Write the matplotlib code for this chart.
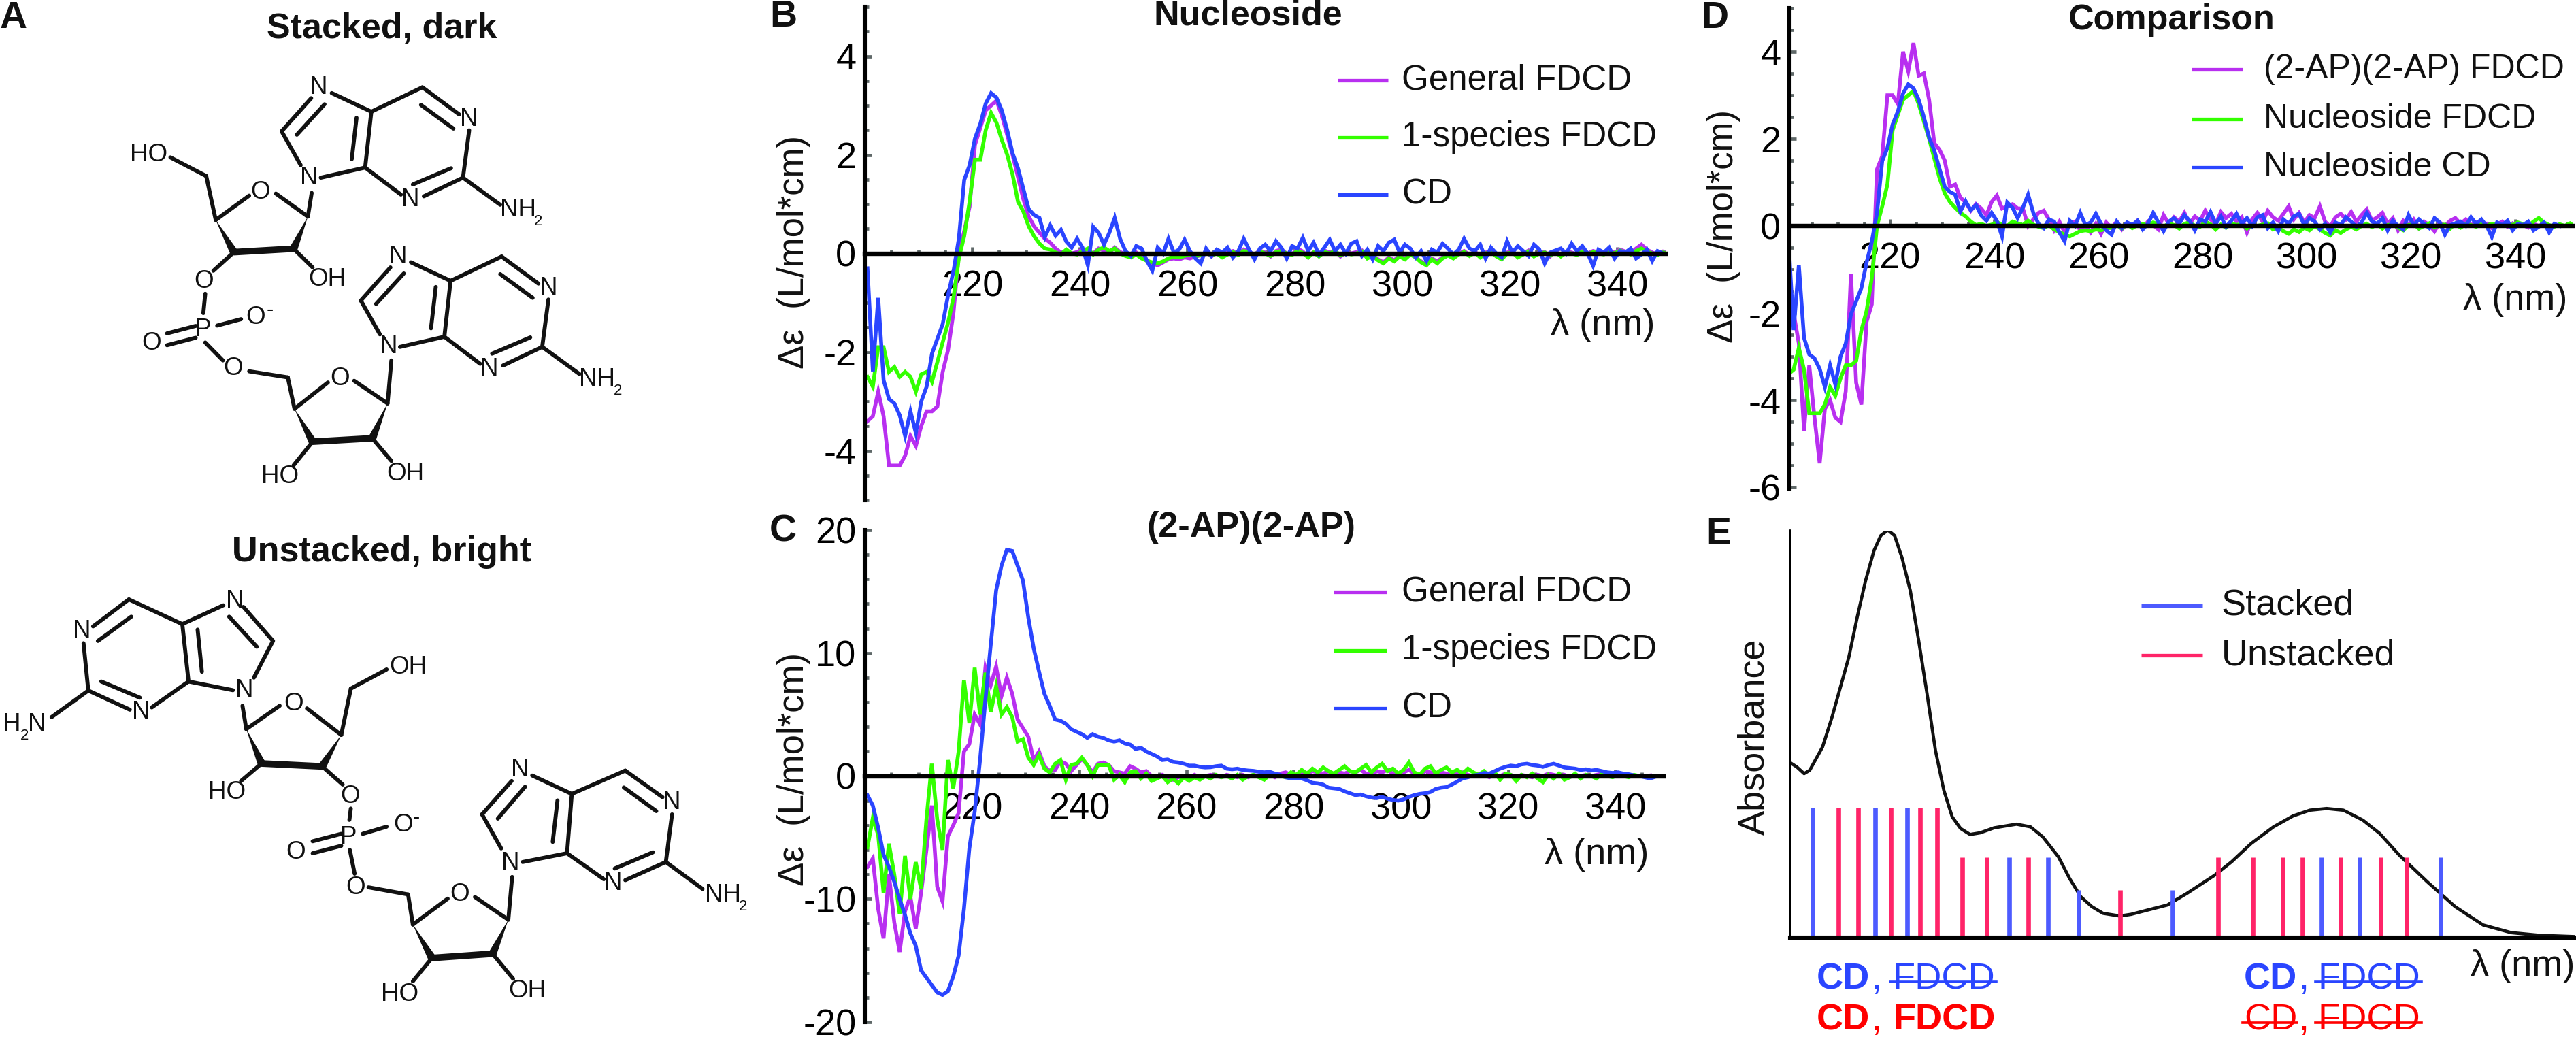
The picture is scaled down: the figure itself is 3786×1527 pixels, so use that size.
import numpy as np
import matplotlib
matplotlib.use('Agg')
from matplotlib import pyplot as plt
from matplotlib.patches import Polygon
from matplotlib.ticker import FixedLocator, MultipleLocator

plt.rcParams['font.family'] = ['Liberation Sans', 'DejaVu Sans']

W, H = 3787, 1527

# spectra, one value per nm starting at 200.5 nm
nuc_general = [-3.4,-3.3,-2.8,-3.3,-4.3,-4.3,-4.3,-4.1,-3.7,-3.9,-3.5,-3.2,-3.2,-3.1,-2.4,-1.95,-1.2,0.0,0.45,0.95,
    2.2,2.55,2.9,3.0,3.1,2.8,2.4,2.0,1.55,1.1,0.75,0.55,0.42,0.3,0.22,0.1,0.02,
    0.05,0.0,0.03,0.08,0.04,0.0,0.1,0.06,0.02,0.12,0.03,-0.02,-0.05,0.02,-0.08,-0.14,-0.2,-0.24,-0.18,-0.12,
    -0.1,-0.12,-0.08,-0.1,-0.06,-0.04,0.02,-0.06,0.04,-0.05,0.02,0.05,0.0,0.08,0.03,-0.02,0.06,0.02,-0.06,0.05,
    0.08,0.0,-0.02,0.1,0.04,-0.08,0.03,-0.04,0.06,0.02,0.05,-0.06,0.02,0.0,0.03,0.06,-0.08,-0.04,-0.12,-0.18,
    -0.08,-0.14,-0.04,-0.1,0.0,-0.08,-0.16,-0.22,-0.1,-0.16,-0.08,-0.02,-0.08,0.0,0.05,-0.03,0.04,-0.06,0.02,0.04,
    -0.04,-0.1,0.02,0.04,-0.06,0.0,0.06,-0.04,0.02,0.03,-0.06,0.05,-0.04,0.04,0.02,-0.02,0.06,0.0,0.05,0.02,
    0.0,0.06,0.02,0.08,0.04,0.0,0.1,0.18,0.08,0.02,-0.02,0.04,0.0,0.06,-0.02,0.03,0.0]
nuc_1sp = [-2.5,-2.7,-1.9,-1.9,-2.4,-2.3,-2.5,-2.4,-2.5,-2.8,-2.45,-2.4,-2.6,-2.2,-1.8,-1.4,-0.9,-0.1,0.35,1.05,
    1.9,1.9,2.5,2.85,2.65,2.3,2.0,1.6,1.05,0.85,0.55,0.35,0.2,0.1,0.08,0.02,-0.02,
    0.08,0.0,-0.02,0.05,0.1,-0.02,0.08,0.12,0.05,0.1,0.0,-0.05,-0.08,-0.02,-0.1,-0.15,-0.18,-0.2,-0.16,-0.1,
    -0.06,-0.08,-0.05,-0.02,-0.06,-0.03,0.02,-0.04,0.0,-0.08,-0.02,0.03,-0.03,0.05,0.02,-0.02,0.04,0.0,-0.05,0.03,
    0.05,0.0,-0.03,0.06,0.01,-0.08,0.02,-0.06,0.03,0.0,0.05,-0.04,0.02,-0.02,0.0,0.04,-0.1,-0.05,-0.14,-0.2,
    -0.1,-0.16,-0.06,-0.12,-0.02,-0.08,-0.18,-0.24,-0.12,-0.2,-0.1,-0.04,-0.1,-0.02,0.03,-0.05,0.02,-0.08,0.0,0.03,
    -0.06,-0.12,0.0,0.02,-0.08,-0.02,0.04,-0.06,0.0,0.02,-0.04,0.03,-0.06,0.02,0.0,-0.03,0.04,-0.02,0.03,0.0,
    -0.02,0.04,0.0,0.06,0.02,-0.02,0.05,0.1,0.04,0.0,-0.03,0.02,0.0,0.02]
nuc_cd = [-0.3,-2.39,-0.9,-2.57,-2.95,-3.04,-3.28,-3.7,-3.2,-3.64,-3.0,-2.7,-2.03,-1.73,-1.43,-0.84,-0.36,0.3,1.49,1.79,
    2.33,2.63,3.04,3.25,3.16,2.9,2.5,2.03,1.73,1.31,0.9,0.78,0.72,0.33,0.57,0.36,0.48,0.24,0.12,0.3,0.12,-0.24,0.54,0.42,0.18,0.42,0.72,
    0.3,0.05,-0.05,0.15,0.1,-0.15,-0.35,0.12,0.0,0.3,0.02,0.08,0.28,0.05,-0.1,-0.2,0.1,-0.05,0.08,0.02,0.12,-0.08,0.05,0.3,
    0.08,-0.12,0.1,0.18,0.05,0.25,0.12,-0.1,0.15,0.1,0.32,0.05,0.22,-0.02,0.12,0.28,0.05,0.18,0.0,0.2,0.25,-0.05,
    0.08,-0.12,0.15,0.05,0.22,0.28,0.02,0.18,0.1,-0.08,0.05,-0.15,0.08,0.02,0.2,0.1,-0.02,0.08,0.3,0.1,0.05,0.18,
    -0.1,0.12,0.0,-0.08,0.25,0.02,0.15,0.05,-0.05,0.18,0.08,-0.2,0.02,0.06,0.1,0.0,0.2,0.05,0.15,0.0,-0.25,0.08,
    0.02,0.12,-0.1,0.05,0.02,0.1,-0.1,-0.02,0.08,-0.15,0.05,0.0]

ap_general = [-7.4,-6.7,-10.8,-13.2,-8.0,-11.9,-14.3,-11.0,-9.8,-12.4,-9.5,-6.0,-2.4,-9.0,-10.2,-4.9,-4.0,-3.0,2.0,2.6,
    5.0,4.2,8.8,7.4,8.9,6.5,8.0,6.7,4.6,3.9,3.2,1.3,2.0,0.8,0.4,0.5,1.2,1.0,0.4,0.9,1.4,0.9,0.3,1.0,1.1,0.9,0.4,
    0.3,0.2,0.8,0.6,0.3,0.4,0.0,-0.2,0.1,-0.1,-0.3,-0.1,0.0,-0.2,0.1,-0.1,0.0,0.1,0.0,-0.1,0.1,0.0,-0.1,0.1,
    -0.1,0.1,0.0,0.2,0.1,-0.1,0.2,0.3,0.1,0.0,0.3,0.2,0.4,0.3,0.2,0.4,0.1,0.3,0.2,0.4,0.3,0.5,0.2,0.1,0.4,0.3,
    0.5,0.2,0.0,0.3,0.5,0.2,0.1,0.4,0.3,0.1,0.3,0.2,0.0,0.2,0.3,0.1,0.0,0.2,0.1,-0.1,0.1,0.0,0.2,0.1,-0.1,0.1,
    0.0,-0.1,0.1,0.0,0.2,0.1,0.0,0.1,-0.1,0.1,0.0,0.1,0.0,0.1,0.2,0.1,0.0,0.1,0.0,0.1,0.05,0.0,0.0,0.05]
ap_1sp = [-5.8,-3.4,-4.8,-9.5,-5.5,-8.0,-11.2,-6.5,-10.0,-7.0,-9.2,-3.5,1.0,-3.5,-6.0,1.3,-1.0,2.0,7.8,4.3,
    8.8,5.0,8.4,5.2,7.3,5.0,5.6,4.8,2.8,3.0,1.5,0.9,1.7,0.6,0.3,1.0,1.3,-0.3,0.9,1.0,1.5,0.9,0.0,0.9,0.9,0.9,-0.3,
    0.1,-0.5,0.3,0.4,-0.2,0.2,-0.4,-0.2,0.0,-0.5,-0.2,-0.6,-0.1,-0.4,-0.1,-0.3,0.0,-0.2,0.1,-0.1,0.0,-0.2,0.1,-0.3,
    0.0,0.1,-0.1,-0.3,0.1,0.2,0.0,-0.1,0.3,0.1,0.5,0.2,0.6,0.3,0.7,0.4,0.2,0.5,0.8,0.4,0.3,0.6,0.9,0.3,0.7,1.0,
    0.4,0.6,0.2,0.5,1.1,0.3,0.1,0.6,0.8,0.2,0.5,0.7,0.3,0.5,0.2,0.6,0.3,0.1,0.4,0.0,0.3,-0.3,0.2,0.1,-0.4,0.1,
    -0.1,0.2,-0.2,-0.5,0.1,-0.2,0.2,-0.3,-0.1,0.2,-0.2,0.1,0.0,-0.2,0.2,0.0,-0.1,0.1,0.0,-0.1,0.1,0.0,-0.05]
ap_cd = [-1.56,-2.4,-4.2,-6.4,-7.4,-8.6,-10.0,-11.3,-12.8,-13.8,-15.8,-16.4,-17.0,-17.6,-17.8,-17.5,-16.3,-14.6,-10.8,-5.9,
    -2.9,1.3,6.2,10.7,15.1,17.1,18.4,18.3,17.1,15.9,12.9,10.4,8.5,6.7,5.7,4.6,4.5,4.25,3.8,3.6,3.4,3.1,3.4,3.2,3.1,2.9,2.8,
    2.9,2.65,2.55,2.2,2.3,2.0,1.8,1.6,1.3,1.35,1.15,1.1,1.0,0.85,0.85,0.75,0.7,0.72,0.8,0.85,0.6,0.55,0.6,0.5,0.45,
    0.42,0.35,0.3,0.35,0.2,0.1,-0.1,-0.2,-0.15,-0.2,-0.35,-0.55,-0.6,-0.7,-0.95,-1.0,-1.05,-1.25,-1.4,-1.55,-1.5,-1.65,
    -1.75,-1.8,-1.7,-1.85,-1.95,-2.0,-1.9,-1.7,-1.55,-1.45,-1.4,-1.3,-1.05,-0.95,-0.9,-0.7,-0.45,-0.2,-0.1,0.05,0.1,0.25,
    0.2,0.4,0.6,0.75,0.85,0.8,0.95,1.0,0.9,0.85,0.75,0.9,1.0,0.85,0.7,0.65,0.6,0.5,0.55,0.45,0.5,0.4,0.3,0.25,0.3,0.2,
    0.15,0.05,0.0,-0.1,-0.2,-0.05,0.0,0.0]
ap_fdcd = [-1.6,-2.0,-2.7,-4.7,-3.2,-4.4,-5.45,-4.2,-4.0,-4.4,-4.5,-3.8,-1.1,-3.6,-4.1,-2.2,-1.8,1.3,1.6,3.0,
    3.0,2.8,4.0,3.55,4.2,3.45,3.5,2.9,1.9,1.75,1.5,0.9,0.95,0.65,0.55,0.35,0.5,0.4,0.25,0.55,0.7,0.4,0.45,0.5,0.4,0.4,0.0,
    0.15,0.3,0.35,0.15,-0.1,0.1,-0.15,0.05,0.1,-0.1,0.02,-0.15,0.05,-0.18,0.08,-0.05,0.1,-0.08,0.05,0.0,0.12,-0.05,0.1,
    0.02,-0.08,0.25,0.05,0.2,0.1,0.3,0.05,0.22,0.12,0.35,0.15,0.05,0.32,0.18,0.28,0.1,0.2,-0.15,0.15,0.3,0.1,0.35,0.2,
    0.12,0.28,0.45,0.15,0.3,0.08,0.25,0.18,0.45,0.1,-0.02,0.2,0.28,0.15,0.32,0.1,0.25,0.38,0.12,0.2,0.3,0.05,0.18,-0.1,
    0.12,0.02,0.15,-0.05,0.1,0.02,-0.12,0.08,0.0,0.12,0.18,0.05,0.15,0.02,0.08,0.0,0.05,-0.05,0.03,0.1,-0.02,0.06,0.0,
    0.02,-0.04,0.05,0.0,0.03,-0.02,0.02,0.0]

# absorbance sketch in panel E, arbitrary units
abs_x = [160,172,185,195,218,235,250,265,280,295,310,322,335,347,360,375,390,405,420,435,450,465,482,500,525,565,590,612,
    640,660,680,700,720,750,770,800,835,870,920,950,985,1025,1060,1090,1120,1150,1185,1215,1250,1300,1350,1400,1450,1500,1565]
abs_y = [526,513,493,503,573,663,753,843,963,1073,1163,1208,1225,1208,1143,1043,893,733,563,443,363,328,310,315,330,341,333,303,
    243,178,123,93,73,65,70,83,98,133,188,228,283,333,366,383,388,383,353,313,248,168,93,38,15,7,3]
stack_blue_x = [200,312,369,552,621,676,844,1111,1179,1324]
stack_blue_h = [391,391,391,241,241,143,143,241,241,241]
stack_red_x = [247,282,340,392,423,468,512,586,751,926,988,1041,1077,1145,1217,1263]
stack_red_h = [391,391,391,391,391,241,241,241,143,241,241,241,241,241,241,241]

purple = '#b82ff0'
green = '#33ff00'
blue = '#2a45ff'
tick_grey = '#5f6868'
fs = 36.8
fs_big = 39

fig = plt.figure(figsize=(W / 100, H / 100), dpi=100, facecolor='white')


def px_axes(left, top, right, bottom):
    return fig.add_axes([left / W, 1 - bottom / H, (right - left) / W, (bottom - top) / H], facecolor='none')


def spectrum_axes(box, xlim, ylim, ymajor, yminor, series):
    ax = px_axes(*box)
    for y, c in series:
        ax.plot(200.5 + np.arange(len(y)), y, color=c, lw=4, solid_joinstyle='miter')
    ax.set_xlim(*xlim)
    ax.set_ylim(*ylim)
    ax.spines['top'].set_visible(False)
    ax.spines['right'].set_visible(False)
    ax.spines['left'].set_linewidth(4.4)
    ax.spines['bottom'].set_position(('data', 0))
    ax.spines['bottom'].set_linewidth(4.6)
    ax.xaxis.set_major_locator(FixedLocator(range(220, 341, 20)))
    ax.xaxis.set_minor_locator(MultipleLocator(5))
    ax.yaxis.set_major_locator(MultipleLocator(ymajor))
    ax.yaxis.set_minor_locator(MultipleLocator(yminor))
    ax.tick_params(which='major', direction='in', length=7, width=3.4, color=tick_grey, labelsize=fs_big)
    ax.tick_params(which='minor', direction='in', length=4, width=3.4, color=tick_grey)
    ax.tick_params(axis='x', pad=17)
    ax.tick_params(axis='y', pad=9)
    # hyphen minus on the tick labels like the reference
    ax.yaxis.set_major_formatter(lambda v, pos: f'{v:g}')
    return ax


ax_b = spectrum_axes((1271, 10, 2448, 735), (200, 349), (-5, 5), 2, 0.5,
                     [(nuc_general, purple), (nuc_1sp, green), (nuc_cd, blue)])
ax_c = spectrum_axes((1271, 779, 2445, 1502), (200, 349), (-20, 20), 10, 2,
                     [(ap_general, purple), (ap_1sp, green), (ap_cd, blue)])
ax_d = spectrum_axes((2630, 12, 3781, 718), (200.7, 351), (-6.03, 5), 2, 0.5,
                     [(ap_fdcd, purple), (nuc_general, green), (nuc_cd, blue)])

ax_e = px_axes(2631, 780, 3785, 1378)
ax_e.plot(abs_x, abs_y, color='#111111', lw=3.4)
ax_e.vlines(stack_blue_x, 0, stack_blue_h, color='#4d5bff', lw=4.8)
ax_e.vlines(stack_red_x, 0, stack_red_h, color='#ff2468', lw=4.8)
ax_e.set_xlim(160, 1565)
ax_e.set_ylim(0, 1223)
ax_e.set_xticks([])
ax_e.set_yticks([])
ax_e.spines['top'].set_visible(False)
ax_e.spines['right'].set_visible(False)
ax_e.spines['left'].set_linewidth(2.6)
ax_e.spines['bottom'].set_linewidth(4.4)

# everything else sits on an overlay in pixel coordinates
ov = fig.add_axes([0, 0, 1, 1], facecolor='none')
ov.set_xlim(0, W)
ov.set_ylim(H, 0)
ov.axis('off')


def txt(x, y, s, ha='left', weight='normal', size=fs, color='#111111', rot=0):
    ov.text(x, y, s, ha=ha, va='center', fontweight=weight, fontsize=size, color=color, rotation=rot)


for s, x, y in [('A', 0, 27), ('B', 1131, 25), ('C', 1131, 782), ('D', 2500, 27), ('E', 2507, 785)]:
    txt(x, y, s, weight='bold', size=40)

for s, x, y in [('Stacked, dark', 561, 42), ('Unstacked, bright', 561, 812), ('Nucleoside', 1834, 23),
                ('(2-AP)(2-AP)', 1839, 775), ('Comparison', 3192, 30)]:
    txt(x, y, s, ha='center', weight='bold', size=37.5)

for x, y in [(2279, 478), (2270, 1256), (3620, 441), (3631, 1420)]:
    txt(x, y, '\u03bb (nm)', size=fs_big)

for x, y in [(1167, 370), (1167, 1130), (2533, 333)]:
    txt(x, y, '\u0394\u03b5  (L/mol*cm)', ha='center', rot=90, size=38)
txt(2578, 1083, 'Absorbance', ha='center', rot=90, size=fs_big)

# legends
for names, cols, x0, x1, xt, ys, size in [
    (['General FDCD', '1-species FDCD', 'CD'], [purple, green, blue], 1966, 2040, 2060, [118, 202, 286], fs),
    (['General FDCD', '1-species FDCD', 'CD'], [purple, green, blue], 1960, 2038, 2060, [870, 956, 1041], fs),
    (['(2-AP)(2-AP) FDCD', 'Nucleoside FDCD', 'Nucleoside CD'], [purple, green, blue], 3221, 3296, 3327, [102, 175, 246], 36),
    (['Stacked', 'Unstacked'], ['#4d5bff', '#ff2468'], 3147, 3237, 3265, [890, 963], fs_big),
]:
    for name, c, y in zip(names, cols, ys):
        ov.plot([x0, x1], [y, y], color=c, lw=3.8, solid_capstyle='butt')
        txt(xt, y, name, size=size)

# CD / FDCD notes under panel E, the crossed out words get a line through them
note_blue = '#2a45ff'
note_red = '#ff0000'
for x_cd, x_comma, x_fd, y, c, cd_struck, fd_struck in [
    (2670, 2750, 2782, 1440, note_blue, False, True),
    (2670, 2750, 2782, 1500, note_red, False, False),
    (3298, 3378, 3407, 1440, note_blue, False, True),
    (3298, 3378, 3407, 1500, note_red, True, True),
]:
    txt(x_cd, y, 'CD', weight='normal' if cd_struck else 'bold', color=c, size=fs_big)
    txt(x_comma, y, ',', color=c, size=fs_big)
    txt(x_fd, y, 'FDCD', weight='normal' if fd_struck else 'bold', color=c, size=fs_big)
    if cd_struck:
        ov.plot([x_cd - 2, x_cd + 78], [y + 3, y + 3], color=c, lw=2.6)
    if fd_struck:
        ov.plot([x_fd - 4, x_fd + 152], [y + 3, y + 3], color=c, lw=2.6)

SX = 0.7015
MOL_SIZE = 26.5
BOND = 4.2


def draw_mol(bonds, wedges, thick, labels, sy, oy):
    def p(q):
        return q[0] * SX, oy + q[1] * sy
    for a, b in bonds:
        (x1, y1), (x2, y2) = p(a), p(b)
        ov.plot([x1, x2], [y1, y2], color='#111111', lw=BOND, solid_capstyle='round')
    for a, b in wedges:
        (x1, y1), (x2, y2) = p(a), p(b)
        d = np.array([y2 - y1, x1 - x2])
        d = d / np.hypot(*d) * 6
        ov.add_patch(Polygon([(x1, y1), (x2 + d[0], y2 + d[1]), (x2 - d[0], y2 - d[1])], color='#111111', lw=0))
    for a, b in thick:
        (x1, y1), (x2, y2) = p(a), p(b)
        ov.plot([x1, x2], [y1, y2], color='#111111', lw=7, solid_capstyle='round')
    for x, y, s, size in labels:
        px, py = p((x, y))
        ov.text(px, py, s, ha='center', va='center', fontsize=size, color='#111111', fontweight='normal')


def shift(bonds, dx, dy):
    return [((a[0] + dx, a[1] + dy), (b[0] + dx, b[1] + dy)) for a, b in bonds]


purine_up = [((695, 275), (778, 330)), ((778, 330), (885, 258)), ((885, 258), (962, 338)), ((882, 310), (950, 380)),
             ((983, 385), (970, 525)), ((970, 525), (888, 580)), ((945, 497), (865, 545)), ((840, 575), (765, 495)),
             ((765, 495), (778, 330)), ((737, 470), (747, 348)), ((765, 495), (672, 525)), ((630, 488), (590, 388)),
             ((590, 388), (652, 290)), ((622, 398), (680, 308)), ((970, 525), (1048, 605))]
purine_up_labels = [(668, 258, 'N', MOL_SIZE), (648, 525, 'N', MOL_SIZE), (983, 352, 'N', MOL_SIZE),
                    (860, 590, 'N', MOL_SIZE), (1085, 620, 'NH', MOL_SIZE), (1128, 655, '2', 16)]

stacked_bonds = purine_up + shift(purine_up, 166, 500) + [
    ((653, 570), (645, 640)), ((645, 640), (578, 572)), ((522, 578), (452, 650)), ((452, 650), (432, 520)),
    ((432, 520), (357, 465)), ((490, 745), (447, 800)), ((615, 735), (655, 790)), ((430, 868), (426, 925)),
    ((455, 962), (505, 943)), ((350, 985), (410, 963)), ((350, 1020), (410, 998)), ((430, 1012), (467, 1065)),
    ((522, 1097), (603, 1115)), ((603, 1115), (617, 1208)), ((617, 1208), (687, 1130)), ((742, 1125), (812, 1192)),
    ((812, 1192), (820, 1065)), ((655, 1305), (615, 1375)), ((780, 1295), (820, 1362))]
stacked_wedges = [((452, 650), (490, 745)), ((645, 640), (615, 735)), ((617, 1208), (655, 1305)), ((812, 1192), (780, 1295))]
stacked_thick = [((490, 745), (615, 735)), ((655, 1305), (780, 1295))]
stacked_labels = purine_up_labels + [(x + 166, y + 500, s, z) for x, y, s, z in purine_up_labels] + [
    (312, 457, 'HO', MOL_SIZE), (546, 567, 'O', MOL_SIZE), (685, 825, 'OH', MOL_SIZE), (427, 832, 'O', MOL_SIZE),
    (425, 975, 'P', MOL_SIZE), (535, 938, 'O', MOL_SIZE), (565, 917, '-', 22), (317, 1015, 'O', MOL_SIZE),
    (488, 1088, 'O', MOL_SIZE), (712, 1118, 'O', MOL_SIZE), (587, 1408, 'HO', MOL_SIZE), (850, 1400, 'OH', MOL_SIZE)]
draw_mol(stacked_bonds, stacked_wedges, stacked_thick, stacked_labels, 0.4974, 0)

unstacked_bonds = [
    ((468, 230), (382, 288)), ((382, 288), (270, 212)), ((270, 212), (195, 295)), ((275, 265), (205, 340)),
    ((175, 347), (185, 493)), ((185, 493), (272, 552)), ((212, 465), (293, 515)), ((318, 545), (395, 465)),
    ((395, 465), (382, 288)), ((423, 435), (414, 305)), ((395, 465), (488, 492)), ((532, 453), (572, 340)),
    ((572, 340), (510, 235)), ((538, 358), (480, 265)), ((185, 493), (108, 575)),
    ((508, 540), (516, 612)), ((516, 612), (586, 540)), ((643, 548), (715, 630)), ((715, 630), (735, 487)),
    ((735, 487), (810, 428)), ((548, 718), (505, 772)), ((675, 727), (718, 783)), ((735, 857), (732, 892)),
    ((760, 935), (810, 913)), ((655, 958), (715, 935)), ((655, 995), (715, 972)), ((733, 985), (743, 1058)),
    ((772, 1100), (855, 1122)), ((855, 1122), (865, 1215)), ((865, 1215), (938, 1135)), ((995, 1130), (1065, 1200)),
    ((1065, 1200), (1073, 1068)), ((905, 1318), (865, 1390)), ((1032, 1305), (1075, 1382)),
    ((1115, 755), (1198, 812)), ((1198, 812), (1310, 740)), ((1310, 740), (1388, 822)), ((1307, 792), (1375, 865)),
    ((1408, 875), (1395, 1022)), ((1395, 1022), (1310, 1078)), ((1368, 992), (1288, 1042)), ((1265, 1075), (1188, 995)),
    ((1188, 995), (1198, 812)), ((1158, 960), (1168, 832)), ((1188, 995), (1095, 1022)), ((1050, 980), (1010, 875)),
    ((1010, 875), (1072, 772)), ((1043, 888), (1100, 790)), ((1395, 1022), (1472, 1105))]
unstacked_wedges = [((516, 612), (548, 718)), ((715, 630), (675, 727)), ((865, 1215), (905, 1318)), ((1065, 1200), (1032, 1305))]
unstacked_thick = [((548, 718), (675, 727)), ((905, 1318), (1032, 1305))]
unstacked_labels = [
    (492, 218, 'N', MOL_SIZE), (172, 310, 'N', MOL_SIZE), (512, 492, 'N', MOL_SIZE), (296, 560, 'N', MOL_SIZE),
    (24, 597, 'H', MOL_SIZE), (52, 632, '2', 16), (78, 597, 'N', MOL_SIZE), (615, 535, 'O', MOL_SIZE),
    (855, 420, 'OH', MOL_SIZE), (475, 808, 'HO', MOL_SIZE), (733, 820, 'O', MOL_SIZE), (730, 945, 'P', MOL_SIZE),
    (845, 907, 'O', MOL_SIZE), (872, 885, '-', 22), (620, 992, 'O', MOL_SIZE), (745, 1102, 'O', MOL_SIZE),
    (963, 1122, 'O', MOL_SIZE), (838, 1430, 'HO', MOL_SIZE), (1105, 1420, 'OH', MOL_SIZE), (1090, 738, 'N', MOL_SIZE),
    (1070, 1025, 'N', MOL_SIZE), (1408, 838, 'N', MOL_SIZE), (1285, 1088, 'N', MOL_SIZE), (1515, 1125, 'NH', MOL_SIZE),
    (1557, 1160, '2', 16)]
draw_mol(unstacked_bonds, unstacked_wedges, unstacked_thick, unstacked_labels, 0.4764, 780)

plt.savefig('out.png', dpi=100)
